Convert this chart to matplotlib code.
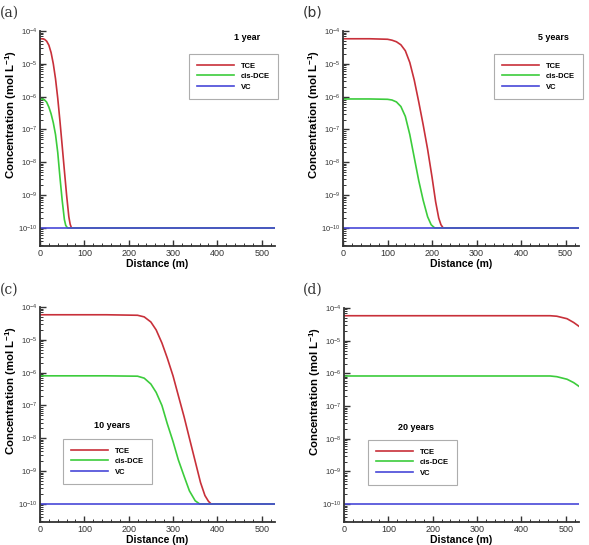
import matplotlib
matplotlib.use("Agg")
import matplotlib.pyplot as plt
from matplotlib.ticker import LogLocator, MultipleLocator, NullFormatter

plt.rcParams['font.family'] = ['Liberation Sans', 'DejaVu Sans']
plt.rcParams['mathtext.default'] = 'regular'

# ---------------- data ----------------
series_names = ["TCE", "cis-DCE", "VC"]
panel_titles = ["1 year", "5 years", "10 years", "20 years"]
panel_tags = ["(a)", "(b)", "(c)", "(d)"]

# (a) 1 year
a_tce_x = [0, 5, 10, 15, 20, 25, 30, 35, 40, 45, 50, 55, 60, 65, 68, 71, 75, 530]
a_tce_c = [5.8e-5, 5.78e-5, 5.6e-5, 4.9e-5, 3.7e-5, 2.2e-5, 1.0e-5, 3.5e-6, 9e-7,
           1.8e-7, 3.2e-8, 5.6e-9, 1.0e-9, 2.2e-10, 1.3e-10, 1e-10, 1e-10, 1e-10]
a_dce_x = [0, 5, 10, 15, 20, 25, 30, 35, 40, 45, 50, 55, 58, 62, 530]
a_dce_c = [8.5e-7, 8.45e-7, 8.0e-7, 6.8e-7, 4.8e-7, 3.0e-7, 1.6e-7, 7e-8, 2.0e-8,
           3.5e-9, 7e-10, 1.8e-10, 1.2e-10, 1e-10, 1e-10]

# (b) 5 years
b_tce_x = [0, 60, 100, 110, 120, 130, 140, 150, 160, 170, 180, 190, 200, 208, 215, 220, 225, 530]
b_tce_c = [5.8e-5, 5.8e-5, 5.6e-5, 5.25e-5, 4.7e-5, 3.8e-5, 2.5e-5, 1.1e-5, 3.2e-6,
           7e-7, 1.4e-7, 2.5e-8, 3.5e-9, 6.3e-10, 2.0e-10, 1.25e-10, 1e-10, 1e-10]
b_dce_x = [0, 60, 100, 110, 120, 130, 140, 150, 160, 170, 180, 190, 198, 206, 530]
b_dce_c = [8.5e-7, 8.5e-7, 8.3e-7, 7.9e-7, 6.9e-7, 5.0e-7, 2.5e-7, 7e-8, 1.4e-8,
           2.8e-9, 7e-10, 2.2e-10, 1.25e-10, 1e-10, 1e-10]

# (c) 10 years
c_tce_x = [0, 150, 220, 235, 250, 262, 275, 287, 300, 312, 325, 337, 350, 362, 372, 380, 386, 530]
c_tce_c = [5.8e-5, 5.8e-5, 5.6e-5, 5.0e-5, 3.5e-5, 2.0e-5, 8e-6, 2.8e-6, 8e-7,
           2.0e-7, 4.5e-8, 1.0e-8, 2.0e-9, 4.5e-10, 1.8e-10, 1.2e-10, 1e-10, 1e-10]
c_dce_x = [0, 150, 220, 235, 250, 262, 275, 287, 300, 312, 325, 337, 350, 360, 530]
c_dce_c = [8e-7, 8e-7, 7.8e-7, 6.8e-7, 4.5e-7, 2.5e-7, 1.0e-7, 2.8e-8, 8e-9,
           2.2e-9, 7e-10, 2.5e-10, 1.25e-10, 1e-10, 1e-10]

# (d) 20 years
d_tce_x = [0, 200, 400, 465, 480, 503, 518, 530]
d_tce_c = [5.8e-5, 5.8e-5, 5.8e-5, 5.8e-5, 5.6e-5, 4.7e-5, 3.6e-5, 2.75e-5]
d_dce_x = [0, 200, 400, 465, 480, 503, 518, 530]
d_dce_c = [8.3e-7, 8.3e-7, 8.3e-7, 8.3e-7, 7.9e-7, 6.6e-7, 5.2e-7, 4.0e-7]

vc_x = [0, 530]
vc_c = [1e-10, 1e-10]

x_ticks = [0, 100, 200, 300, 400, 500]
y_decades = [1e-10, 1e-9, 1e-8, 1e-7, 1e-6, 1e-5, 1e-4]

panels = [
    (a_tce_x, a_tce_c, a_dce_x, a_dce_c),
    (b_tce_x, b_tce_c, b_dce_x, b_dce_c),
    (c_tce_x, c_tce_c, c_dce_x, c_dce_c),
    (d_tce_x, d_tce_c, d_dce_x, d_dce_c),
]

# ---------------- layout / style ----------------
W, H = 589, 545
fig = plt.figure(figsize=(W / 100, H / 100), dpi=100)

# axes boxes in pixels: left, right, top, bottom
boxes = [(40, 275, 31, 246), (343, 579, 31, 246), (40, 275, 307, 522), (344, 579, 308, 522)]
legend_pos = [(189, 54), (494, 54), (63, 439), (368, 440)]
title_pos = [(247, 37), (553, 37), (112, 425), (416, 427)]
tag_pos = [(0, 13), (303, 13), (0, 290), (303, 290)]
tag_fonts = ['DejaVu Serif', 'DejaVu Sans', 'DejaVu Serif', 'DejaVu Serif']

colors = ['#c8303a', '#3ccc3c', '#4848d8']

for i, (tx, tc, dx, dc) in enumerate(panels):
    l, r, t, b = boxes[i]
    ax = fig.add_axes([l / W, 1 - b / H, (r - l) / W, (b - t) / H])
    ax.plot(tx, tc, color=colors[0], lw=1.2, label=series_names[0])
    ax.plot(dx, dc, color=colors[1], lw=1.2, label=series_names[1])
    ax.plot(vc_x, vc_c, color=colors[2], lw=1.2, label=series_names[2])
    ax.set_yscale('log')
    ax.set_xlim(0, 530)
    ax.set_ylim(10 ** -10.55, 1e-4)
    ax.set_xticks(x_ticks)
    ax.xaxis.set_minor_locator(MultipleLocator(20))
    ax.set_yticks(y_decades)
    ax.yaxis.set_minor_locator(LogLocator(base=10, subs=range(2, 10), numticks=20))
    ax.yaxis.set_minor_formatter(NullFormatter())
    for s in ['top', 'right']:
        ax.spines[s].set_visible(False)
    for s in ['left', 'bottom']:
        ax.spines[s].set_linewidth(1.3)
        ax.spines[s].set_color('#333333')
    ax.tick_params(which='major', direction='in', length=4, width=1.0,
                   labelsize=5.5, colors='#333333', pad=2)
    ax.tick_params(which='minor', direction='in', length=2, width=0.7, colors='#333333')
    ax.tick_params(axis='x', labelsize=6.5)
    ax.set_xlabel('Distance (m)', fontsize=7.5, fontweight='bold', labelpad=1)
    ax.set_ylabel('Concentration (mol L$^{-1}$)', fontsize=8.2, fontweight='bold')
    ax.yaxis.set_label_coords(-0.088, 0.61)

    lx, ly = legend_pos[i]
    leg = ax.legend(loc='upper left', bbox_to_anchor=(lx / W, 1 - ly / H),
                    bbox_transform=fig.transFigure, borderaxespad=0,
                    fancybox=False, frameon=True, edgecolor='#999999',
                    prop={'size': 5.5, 'weight': 'bold'}, handlelength=4.8,
                    handletextpad=0.9, labelspacing=0.4, borderpad=1.1)
    leg.get_frame().set_linewidth(0.8)

    px, py = title_pos[i]
    fig.text(px / W, 1 - py / H, panel_titles[i], fontsize=6.5, fontweight='bold',
             ha='center', va='center')
    gx, gy = tag_pos[i]
    fig.text(gx / W, 1 - gy / H, panel_tags[i], fontsize=10, family=tag_fonts[i],
             ha='left', va='center', color='#333333')

fig.savefig('out.png', dpi=100)
